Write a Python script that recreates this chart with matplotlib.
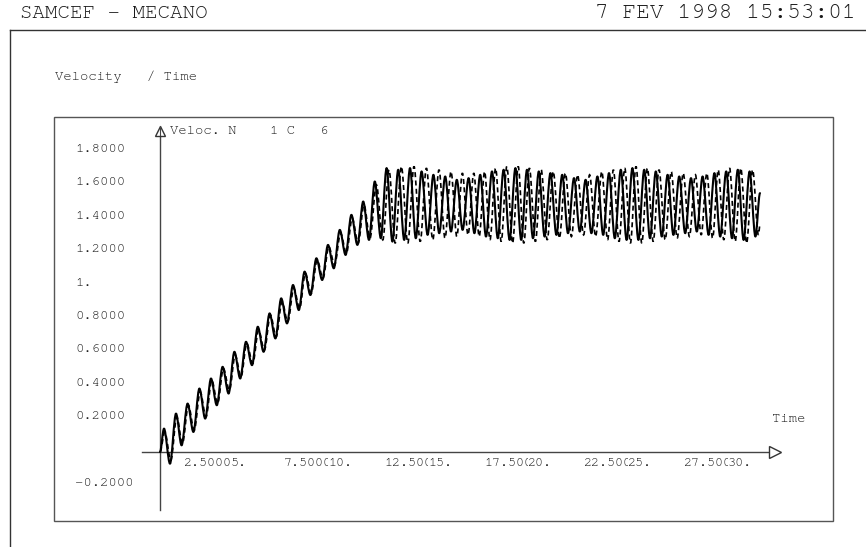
import matplotlib
matplotlib.use('Agg')
import matplotlib.pyplot as plt
from matplotlib.patches import Rectangle, PathPatch
from matplotlib.lines import Line2D
from matplotlib.path import Path
from matplotlib import font_manager
import matplotlib.transforms as mtransforms

# ---------------- data ----------------
t_solid = [0.00,
    0.20, 0.50, 0.80, 1.08, 1.38, 1.67, 1.97, 2.26, 2.55, 2.84,
    3.13, 3.43, 3.72, 4.01, 4.30, 4.60, 4.89, 5.18, 5.48, 5.77,
    6.06, 6.35, 6.65, 6.94, 7.23, 7.52, 7.82, 8.11, 8.40, 8.69,
    8.99, 9.28, 9.57, 9.87, 10.16, 10.45, 10.74, 11.04, 11.33, 11.62,
    11.91, 12.21, 12.50, 12.79, 13.08, 13.38, 13.67, 13.96, 14.26, 14.55,
    14.84, 15.13, 15.43, 15.72, 16.01, 16.30, 16.60, 16.89, 17.18, 17.48,
    17.77, 18.06, 18.35, 18.65, 18.94, 19.23, 19.52, 19.82, 20.11, 20.40,
    20.70, 20.99, 21.28, 21.57, 21.87, 22.16, 22.45, 22.74, 23.04, 23.33,
    23.62, 23.92, 24.21, 24.50, 24.79, 25.09, 25.38, 25.67, 25.96, 26.26,
    26.55, 26.84, 27.13, 27.43, 27.72, 28.01, 28.31, 28.60, 28.89, 29.18,
    29.48, 29.77, 30.00]
v_solid = [0.00,
    0.14, -0.07, 0.23, 0.04, 0.29, 0.12, 0.38, 0.20, 0.44, 0.28,
    0.51, 0.35, 0.60, 0.44, 0.66, 0.52, 0.75, 0.60, 0.83, 0.68,
    0.92, 0.77, 1.00, 0.85, 1.08, 0.94, 1.16, 1.03, 1.24, 1.10,
    1.33, 1.18, 1.42, 1.24, 1.50, 1.27, 1.62, 1.28, 1.70, 1.26,
    1.69, 1.27, 1.70, 1.28, 1.68, 1.30, 1.66, 1.31, 1.65, 1.32,
    1.63, 1.33, 1.64, 1.31, 1.66, 1.29, 1.68, 1.28, 1.69, 1.27,
    1.70, 1.27, 1.69, 1.28, 1.68, 1.29, 1.67, 1.30, 1.66, 1.31,
    1.64, 1.32, 1.63, 1.31, 1.65, 1.30, 1.67, 1.28, 1.69, 1.27,
    1.70, 1.27, 1.69, 1.28, 1.68, 1.29, 1.66, 1.30, 1.65, 1.31,
    1.64, 1.32, 1.65, 1.30, 1.67, 1.29, 1.68, 1.28, 1.69, 1.27,
    1.68, 1.29, 1.55]

t_dashed = [0.00,
    0.24, 0.54, 0.84, 1.12, 1.42, 1.71, 2.01, 2.30, 2.59, 2.88,
    3.17, 3.47, 3.76, 4.05, 4.34, 4.64, 4.93, 5.22, 5.52, 5.81,
    6.10, 6.39, 6.69, 6.98, 7.27, 7.56, 7.86, 8.15, 8.44, 8.73,
    9.03, 9.32, 9.61, 9.91, 10.20, 10.50, 10.82, 11.14, 11.45, 11.76,
    12.07, 12.39, 12.70, 13.01, 13.32, 13.64, 13.95, 14.25, 14.55, 14.84,
    15.12, 15.40, 15.69, 15.96, 16.23, 16.50, 16.78, 17.06, 17.34, 17.63,
    17.91, 18.19, 18.47, 18.77, 19.06, 19.36, 19.66, 19.97, 20.27, 20.57,
    20.88, 21.18, 21.48, 21.78, 22.09, 22.38, 22.67, 22.95, 23.24, 23.52,
    23.80, 24.09, 24.37, 24.66, 24.95, 25.26, 25.56, 25.86, 26.16, 26.47,
    26.77, 27.06, 27.34, 27.63, 27.91, 28.19, 28.48, 28.76, 29.04, 29.33,
    29.63, 29.92, 30.00]
v_dashed = [0.00,
    0.12, -0.05, 0.21, 0.05, 0.28, 0.13, 0.36, 0.21, 0.43, 0.29,
    0.50, 0.37, 0.58, 0.45, 0.65, 0.53, 0.73, 0.61, 0.82, 0.69,
    0.90, 0.78, 0.98, 0.86, 1.07, 0.95, 1.15, 1.04, 1.23, 1.12,
    1.31, 1.19, 1.40, 1.25, 1.48, 1.28, 1.60, 1.27, 1.69, 1.25,
    1.71, 1.25, 1.71, 1.26, 1.70, 1.27, 1.69, 1.28, 1.68, 1.29,
    1.67, 1.30, 1.67, 1.29, 1.68, 1.27, 1.70, 1.26, 1.71, 1.25,
    1.71, 1.25, 1.70, 1.26, 1.69, 1.27, 1.68, 1.28, 1.67, 1.29,
    1.66, 1.30, 1.66, 1.29, 1.68, 1.27, 1.69, 1.26, 1.70, 1.25,
    1.71, 1.25, 1.70, 1.26, 1.69, 1.27, 1.68, 1.28, 1.67, 1.29,
    1.66, 1.30, 1.67, 1.28, 1.69, 1.27, 1.70, 1.26, 1.70, 1.25,
    1.69, 1.30, 1.36]

y_ticks = [1.8, 1.6, 1.4, 1.2, 1.0, 0.8, 0.6, 0.4, 0.2, -0.2]
y_tick_labels = ["1.8000", "1.6000", "1.4000", "1.2000", "1.", "0.8000",
                 "0.6000", "0.4000", "0.2000", "-0.2000"]
x_ticks = [2.5, 5, 7.5, 10, 12.5, 15, 17.5, 20, 22.5, 25, 27.5, 30]
x_tick_labels = ["2.5000", "5.", "7.5000", "10.", "12.500", "15.",
                 "17.500", "20.", "22.500", "25.", "27.500", "30."]

title_left = "SAMCEF - MECANO"
title_right = "7 FEV 1998 15:53:01"
subtitle = "Velocity   / Time"
curve_label = "Veloc. N    1 C   6"
x_name = "Time"

# ---------------- fonts ----------------
_avail = {f.name for f in font_manager.fontManager.ttflist}
FONT = [f for f in ['Nimbus Mono PS', 'Courier New', 'FreeMono',
                    'Liberation Mono', 'DejaVu Sans Mono'] if f in _avail]

# ---------------- figure ----------------
W, H = 866, 547
fig = plt.figure(figsize=(W / 100, H / 100), dpi=100)
TXT = '#1a1a1a'
LINE = '#444444'


def fx(px):
    return px / W


def fy(py):
    return 1 - py / H


# outer frame
fig.add_artist(Line2D([fx(10), 1.0], [fy(30), fy(30)], color='#333333', lw=1.0))
fig.add_artist(Line2D([fx(10), fx(10)], [fy(30), 0.0], color='#333333', lw=1.0))
# inner box
fig.add_artist(Rectangle((fx(54), fy(521)), fx(833) - fx(54), fy(117) - fy(521),
                         fill=False, ec='#555555', lw=1.0))

fig.text(fx(20), fy(13), title_left, fontsize=15, family=FONT, color=TXT,
         ha='left', va='center')
fig.text(fx(856), fy(13), title_right, fontsize=16.5, family=FONT, color=TXT,
         ha='right', va='center')
fig.text(fx(55), fy(77), subtitle, fontsize=10, family=FONT, color=TXT,
         ha='left', va='center')

# plot axes: x 0 -> 160px, 20 px per unit ; y 0 -> 452px, 167 px per unit
ax = fig.add_axes([fx(140), fy(510), fx(780) - fx(140), fy(126) - fy(510)])
ax.set_xlim(-1.0, 31.0)
ax.set_ylim((452 - 510) / 167.0, (452 - 126) / 167.0)
ax.axis('off')

# axis lines with open arrow heads
ax.plot([-0.9, 30.5], [0, 0], color=LINE, lw=1.0, zorder=2, clip_on=False)
ax.plot([30.75], [0], marker='>', ms=8, mfc='white', mec='#333333', mew=1.0,
        zorder=3, clip_on=False)
ax.plot([0, 0], [(452 - 510) / 167.0, 1.925], color=LINE, lw=1.0, zorder=2,
        clip_on=False)
ax.plot([0], [1.922], marker='^', ms=7, mfc='white', mec='#333333', mew=1.0,
        zorder=3, clip_on=False)
ax.plot([0, 0], [1.90, 1.952], color=LINE, lw=0.8, zorder=4, clip_on=False)


def smooth_path(ts, vs):
    """Cubic Bezier through the read points, horizontal tangents at each point."""
    verts = [(ts[0], vs[0])]
    codes = [Path.MOVETO]
    for i in range(len(ts) - 1):
        d = (ts[i + 1] - ts[i]) / 3.0
        verts += [(ts[i] + d, vs[i]), (ts[i + 1] - d, vs[i + 1]),
                  (ts[i + 1], vs[i + 1])]
        codes += [Path.CURVE4] * 3
    return Path(verts, codes)


ax.add_patch(PathPatch(smooth_path(t_solid, v_solid), fill=False,
                       ec='black', lw=1.5, zorder=5, capstyle='round',
                       joinstyle='round'))
ax.add_patch(PathPatch(smooth_path(t_dashed, v_dashed), fill=False,
                       ec='black', lw=1.2, ls=(0, (3, 2)), zorder=6))

# y tick labels (left-aligned in a column)
ytrans = mtransforms.blended_transform_factory(fig.transFigure, ax.transData)
ytrans = mtransforms.offset_copy(ytrans, fig=fig, x=0, y=2, units='dots')
for v, lab in zip(y_ticks, y_tick_labels):
    ax.text(fx(75), v, lab, transform=ytrans, fontsize=10, family=FONT,
            color=TXT, ha='left', va='center')

# x tick labels (each drawn with opaque background, later ones over earlier,
# as on the original plotter output)
xbase = mtransforms.blended_transform_factory(ax.transData, fig.transFigure)
for i, (t, lab) in enumerate(zip(x_ticks, x_tick_labels)):
    if len(lab) == 2:
        off = -29
    elif len(lab) == 3:
        off = -32
    else:
        off = -26
    tr = mtransforms.offset_copy(xbase, fig=fig, x=off, y=0, units='dots')
    ax.text(t, fy(463), lab, transform=tr, fontsize=9.6, family=FONT,
            color=TXT, ha='left', va='center', zorder=10 + i,
            bbox=dict(boxstyle='square,pad=0', fc='white', ec='none'))

ax.text(fx(772), fy(419), x_name, transform=fig.transFigure, fontsize=10,
        family=FONT, color=TXT, ha='left', va='center')
ax.text(fx(170), fy(131), curve_label, transform=fig.transFigure, fontsize=10,
        family=FONT, color=TXT, ha='left', va='center')

fig.savefig('out.png', dpi=100)
